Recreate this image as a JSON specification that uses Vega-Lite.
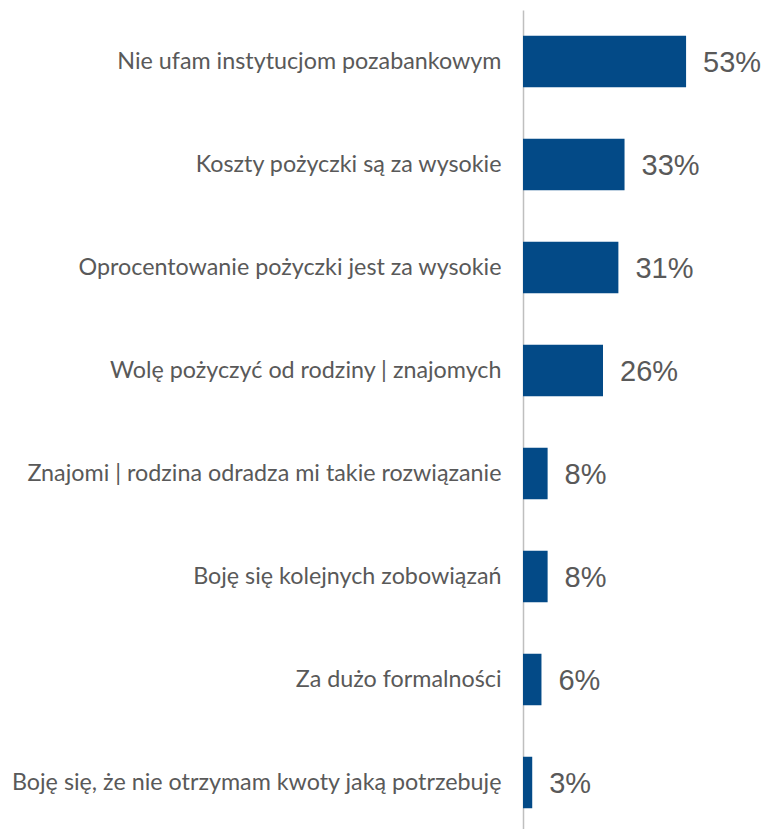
{
  "$schema": "https://vega.github.io/schema/vega-lite/v6.json",
  "autosize": {"type": "none"},
  "width": 240,
  "height": 824,
  "padding": {"left": 523, "top": 10, "right": 2, "bottom": 0},
  "background": "white",
  "data": {"values": [
    {"reason": "Nie ufam instytucjom pozabankowym", "pct": 0.53},
    {"reason": "Koszty pożyczki są za wysokie", "pct": 0.33},
    {"reason": "Oprocentowanie pożyczki jest za wysokie", "pct": 0.31},
    {"reason": "Wolę pożyczyć od rodziny | znajomych", "pct": 0.26},
    {"reason": "Znajomi | rodzina odradza mi takie rozwiązanie", "pct": 0.08},
    {"reason": "Boję się kolejnych zobowiązań", "pct": 0.08},
    {"reason": "Za dużo formalności", "pct": 0.06},
    {"reason": "Boję się, że nie otrzymam kwoty jaką potrzebuję", "pct": 0.03}
  ]},
  "config": {"view": {"stroke": null}},
  "encoding": {
    "y": {
      "field": "reason", "type": "nominal", "sort": null,
      "scale": {"paddingInner": 0.5, "paddingOuter": 0.25},
      "axis": {
        "title": null, "ticks": false, "domainColor": "#bfbfbf", "domainWidth": 1.5,
        "labelFont": "Lato", "labelFontSize": 23.3, "labelColor": "#595959",
        "labelPadding": 22, "labelLimit": 530
      }
    },
    "x": {
      "field": "pct", "type": "quantitative",
      "scale": {"domain": [0, 0.78]},
      "axis": null
    }
  },
  "layer": [
    {"mark": {"type": "bar", "color": "#034a87"}},
    {
      "mark": {"type": "text", "align": "left", "baseline": "middle", "dx": 17, "dy": 1, "font": "Liberation Sans", "fontSize": 29, "color": "#595959"},
      "encoding": {"text": {"field": "pct", "type": "quantitative", "format": ".0%"}}
    }
  ]
}
